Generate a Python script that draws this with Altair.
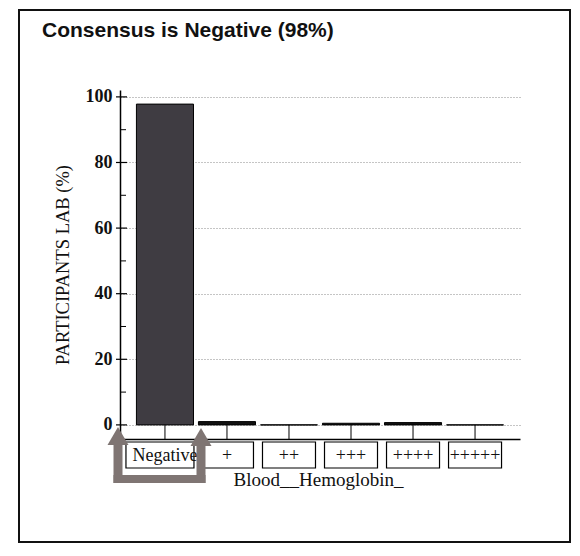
import altair as alt
import pandas as pd

# ---- data ----
categories = ["Negative", "+", "++", "+++", "++++", "+++++"]
percent_lab = [97.8, 1.0, 0.0, 0.5, 0.7, 0.0]
y_major = [0, 20, 40, 60, 80, 100]
y_minor = [10, 30, 50, 70, 90]
chart_title = "Consensus is Negative (98%)"
y_title = "PARTICIPANTS LAB (%)"
x_title = "Blood__Hemoglobin_"

bars = pd.DataFrame({"cat": categories, "val": percent_lab})
majors = pd.DataFrame({"val": y_major})
minors = pd.DataFrame({"val": y_minor})
one = pd.DataFrame({"k": [0]})

W, H = 400, 349
ydom = [-4.3, 102.1]
serif = "Liberation Serif"

xscale = alt.Scale(domain=categories, paddingInner=0.08, paddingOuter=0.265)
yscale = alt.Scale(domain=ydom, nice=False, zero=False)

xenc = alt.X("cat:N", sort=categories, scale=xscale,
             axis=alt.Axis(labels=False, ticks=False, domain=True, domainColor="black",
                           domainWidth=1.5, grid=False, title=x_title,
                           titleFont=serif, titleFontSize=19, titleFontWeight="normal",
                           titleColor="#111", titleX=198, titleY=46,
                           titleBaseline="alphabetic", titleAlign="center"))
xplain = alt.X("cat:N", sort=categories, scale=xscale, title=x_title)

bar_layer = alt.Chart(bars).mark_bar(stroke="black", strokeWidth=1).encode(
    x=xenc,
    y=alt.Y("val:Q", scale=yscale,
            axis=alt.Axis(values=y_major, grid=True, gridDash=[1, 2], gridColor="#8a8a8a",
                          gridWidth=1, ticks=False, tickSize=0, domain=True,
                          domainColor="black", domainWidth=1.5, labelPadding=8,
                          labelFont=serif, labelFontSize=18, labelFontWeight="bold",
                          labelColor="#111", title=y_title, titleFont=serif,
                          titleFontSize=18.5, titleFontWeight="normal", titleColor="#111",
                          titleAngle=270, titleX=-52, titleY=H / 2,
                          titleBaseline="alphabetic", titleAlign="center")),
    y2=alt.datum(0),
    color=alt.condition(alt.datum.cat == "Negative", alt.value("#3f3c42"), alt.value("#111111")),
)
yplain = alt.Y("val:Q", scale=yscale, title=y_title)

# inward tick marks on x axis
xticks = alt.Chart(bars).mark_rule(color="black", strokeWidth=1).encode(
    x=xplain, y=alt.datum(0), y2=alt.value(H))

# y ticks (major crossing, minor inward)
ymaj = alt.Chart(majors).mark_rule(color="black", strokeWidth=1.2).encode(
    y=yplain, x=alt.value(-4), x2=alt.value(7))
ymin = alt.Chart(minors).mark_rule(color="black", strokeWidth=1).encode(
    y=yplain, x=alt.value(0), x2=alt.value(6))

# boxed category labels
boxes = alt.Chart(bars).transform_filter(alt.datum.cat != "Negative").mark_bar(
    width=53, fill="white", stroke="black", strokeWidth=1.2).encode(
    x=xplain, y=alt.value(352), y2=alt.value(378))
box_neg = alt.Chart(bars).transform_filter(alt.datum.cat == "Negative").mark_bar(
    width=68, xOffset=-5, fill="white", stroke="black", strokeWidth=1.2).encode(
    x=xplain, y=alt.value(352), y2=alt.value(378))
labels = alt.Chart(bars).mark_text(font=serif, fontSize=18, color="#111",
                                   baseline="middle").encode(
    x=xplain, y=alt.value(366), text="cat:N")

# grey U-shaped arrow annotation around "Negative"
arrow_col = "#7f7573"
shaft_l = alt.Chart(one).mark_rule(color=arrow_col, strokeWidth=9).encode(
    x=alt.value(-2), y=alt.value(352), y2=alt.value(393))
shaft_r = alt.Chart(one).mark_rule(color=arrow_col, strokeWidth=9).encode(
    x=alt.value(81), y=alt.value(352), y2=alt.value(393))
bottom = alt.Chart(one).mark_rule(color=arrow_col, strokeWidth=8).encode(
    x=alt.value(-6.5), x2=alt.value(85.5), y=alt.value(389))
tri = "M-1,0.85L0,-0.85L1,0.85Z"
head_l = alt.Chart(one).mark_point(shape=tri, size=440, filled=True, color=arrow_col,
                                   opacity=1).encode(x=alt.value(-2), y=alt.value(346))
head_r = alt.Chart(one).mark_point(shape=tri, size=440, filled=True, color=arrow_col,
                                   opacity=1).encode(x=alt.value(81), y=alt.value(347))

# title and frame
title = alt.Chart(one).mark_text(text=chart_title, font="Liberation Sans", fontSize=21,
                                 fontWeight="bold", color="#111", align="left",
                                 baseline="alphabetic").encode(
    x=alt.value(-78), y=alt.value(-53))
frame = alt.Chart(one).mark_rect(fill=None, stroke="#111", strokeWidth=2).encode(
    x=alt.value(-101), x2=alt.value(450), y=alt.value(-80), y2=alt.value(452))

chart = alt.layer(
    bar_layer, xticks, ymaj, ymin, boxes, box_neg, labels,
    shaft_l, shaft_r, bottom, head_l, head_r, title, frame
).resolve_scale(x="shared", y="shared").properties(
    width=W, height=H,
    autosize=alt.AutoSizeParams(type="none"),
    padding={"left": 112, "top": 82, "right": 52, "bottom": 106},
    background="white",
).configure_view(stroke=None)

chart.save("out.html", embed_options={"renderer": "svg", "actions": False})
